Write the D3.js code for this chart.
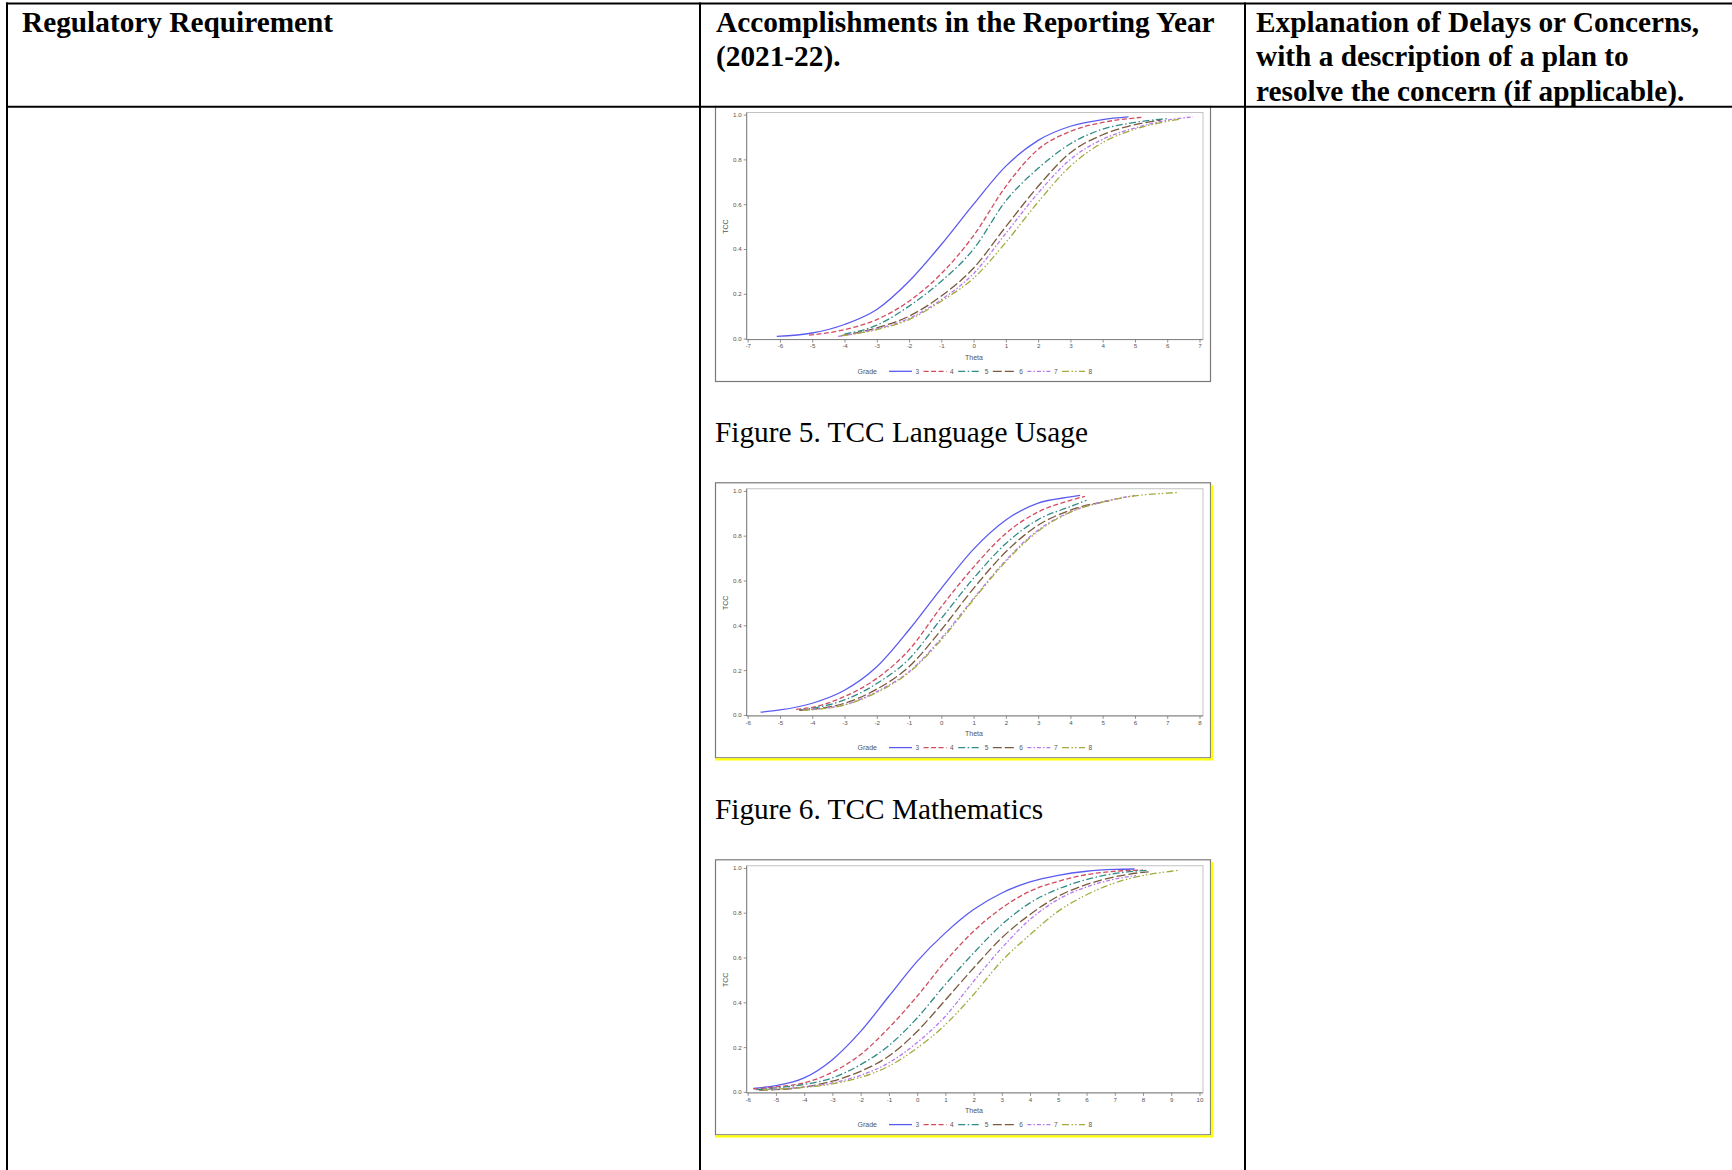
<!DOCTYPE html>
<html>
<head>
<meta charset="utf-8">
<script src="https://cdn.jsdelivr.net/npm/d3@7"></script>
<style>
  html, body { margin: 0; padding: 0; background: #fff; overflow: hidden; }
  svg { display: block; }
</style>
</head>
<body>
<div id="page"></div>
<script>
// Table header text (one entry per wrapped line)
var headerLeft = ['Regulatory Requirement'];
var headerMid = ['Accomplishments in the Reporting Year', '(2021-22).'];
var headerRight = ['Explanation of Delays or Concerns,', 'with a description of a plan to', 'resolve the concern (if applicable).'];
var captions = ['Figure 5. TCC Language Usage', 'Figure 6. TCC Mathematics'];

// Legend / series
var grades = ['3', '4', '5', '6', '7', '8'];
var gradeColors = ['#5b5bf0', '#d24b5e', '#2f8c86', '#7a5a3e', '#b878f0', '#a3ab3c'];
var gradeDash = ['none', '5,2.5', '7,2.5,1.5,2.5', '9,3', '4,2,1.5,2', '7,2.5,1.5,2,1.5,2.5'];
var yTicks = [0, 0.2, 0.4, 0.6, 0.8, 1.0];

// Chart 1 (top, caption cut off): theta ticks and curves [theta, TCC]
var ticks1 = [-7, -6, -5, -4, -3, -2, -1, 0, 1, 2, 3, 4, 5, 6, 7];
var curves1 = [
  [[-6.1, 0.01], [-5, 0.025], [-4, 0.063], [-3, 0.13], [-2, 0.256], [-1, 0.42], [0, 0.6], [1, 0.77], [2, 0.885], [3, 0.948], [4, 0.978], [4.8, 0.99]],
  [[-5.1, 0.015], [-4, 0.04], [-3, 0.085], [-2, 0.167], [-1, 0.29], [0, 0.46], [1, 0.68], [2, 0.845], [3, 0.925], [4, 0.965], [5, 0.985], [5.2, 0.988]],
  [[-4.0, 0.02], [-3, 0.06], [-2, 0.145], [-1, 0.256], [0, 0.4], [1, 0.615], [2, 0.76], [3, 0.87], [4, 0.935], [5, 0.965], [6, 0.982]],
  [[-4.1, 0.013], [-3, 0.048], [-2, 0.1], [-1, 0.19], [0, 0.315], [1, 0.5], [2, 0.68], [3, 0.83], [4, 0.91], [5, 0.955], [5.8, 0.975]],
  [[-4.2, 0.01], [-3, 0.043], [-2, 0.09], [-1, 0.174], [0, 0.29], [1, 0.47], [2, 0.65], [3, 0.8], [4, 0.89], [5, 0.94], [6, 0.975], [6.8, 0.99]],
  [[-4.1, 0.012], [-3, 0.04], [-2, 0.085], [-1, 0.167], [0, 0.27], [1, 0.43], [2, 0.61], [3, 0.77], [4, 0.875], [5, 0.935], [6, 0.97], [6.4, 0.98]]
];

// Chart 2: Language Usage
var ticks2 = [-6, -5, -4, -3, -2, -1, 0, 1, 2, 3, 4, 5, 6, 7, 8];
var curves2 = [
  [[-5.6, 0.012], [-5, 0.022], [-4, 0.052], [-3, 0.11], [-2, 0.215], [-1, 0.38], [0, 0.565], [1, 0.74], [2, 0.87], [3, 0.945], [4, 0.973], [4.3, 0.98]],
  [[-4.5, 0.025], [-4, 0.034], [-3, 0.082], [-2, 0.163], [-1, 0.29], [0, 0.483], [1, 0.66], [2, 0.81], [3, 0.906], [4, 0.958], [4.45, 0.976]],
  [[-4.4, 0.022], [-4, 0.03], [-3, 0.067], [-2, 0.14], [-1, 0.25], [0, 0.43], [1, 0.61], [2, 0.765], [3, 0.872], [4, 0.93], [4.5, 0.958]],
  [[-4.4, 0.02], [-4, 0.025], [-3, 0.052], [-2, 0.115], [-1, 0.215], [0, 0.38], [1, 0.565], [2, 0.728], [3, 0.847], [4, 0.914], [5, 0.951], [5.2, 0.956]],
  [[-4.3, 0.022], [-4, 0.025], [-3, 0.045], [-2, 0.104], [-1, 0.193], [0, 0.342], [1, 0.52], [2, 0.69], [3, 0.825], [4, 0.906], [5, 0.951], [6, 0.98]],
  [[-4.3, 0.02], [-4, 0.023], [-3, 0.044], [-2, 0.1], [-1, 0.19], [0, 0.335], [1, 0.515], [2, 0.685], [3, 0.82], [4, 0.905], [5, 0.95], [6, 0.978], [7, 0.99], [7.3, 0.993]]
];

// Chart 3: Mathematics
var ticks3 = [-6, -5, -4, -3, -2, -1, 0, 1, 2, 3, 4, 5, 6, 7, 8, 9, 10];
var curves3 = [
  [[-5.8, 0.016], [-5, 0.028], [-4, 0.0625], [-3, 0.144], [-2, 0.27], [-1, 0.427], [0, 0.583], [1, 0.71], [2, 0.814], [3, 0.888], [4, 0.9375], [5, 0.967], [6, 0.985], [7, 0.993], [7.7, 0.995]],
  [[-5.8, 0.013], [-5, 0.022], [-4, 0.04], [-3, 0.088], [-2, 0.167], [-1, 0.286], [0, 0.427], [1, 0.583], [2, 0.717], [3, 0.821], [4, 0.896], [5, 0.94], [6, 0.97], [7, 0.985], [8, 0.99]],
  [[-5.7, 0.01], [-5, 0.018], [-4, 0.033], [-3, 0.0625], [-2, 0.122], [-1, 0.207], [0, 0.33], [1, 0.48], [2, 0.62], [3, 0.747], [4, 0.844], [5, 0.906], [6, 0.948], [7, 0.975], [8, 0.988], [8.2, 0.99]],
  [[-5.6, 0.008], [-5, 0.01], [-4, 0.022], [-3, 0.048], [-2, 0.092], [-1, 0.16], [0, 0.27], [1, 0.41], [2, 0.553], [3, 0.688], [4, 0.792], [5, 0.874], [6, 0.926], [7, 0.96], [8, 0.98], [8.2, 0.982]],
  [[-5.45, 0.01], [-5, 0.013], [-4, 0.022], [-3, 0.04], [-2, 0.074], [-1, 0.13], [0, 0.22], [1, 0.338], [2, 0.494], [3, 0.643], [4, 0.77], [5, 0.86], [6, 0.915], [7, 0.95], [7.75, 0.966]],
  [[-5.45, 0.01], [-5, 0.012], [-4, 0.02], [-3, 0.036], [-2, 0.065], [-1, 0.115], [0, 0.196], [1, 0.3], [2, 0.435], [3, 0.585], [4, 0.702], [5, 0.807], [6, 0.88], [7, 0.933], [8, 0.966], [9, 0.985], [9.3, 0.99]]
];

var W = 1732, H = 1170;
var serif = '"Liberation Serif", "Times New Roman", serif';
var sans = '"Liberation Sans", Arial, sans-serif';

var svg = d3.select('#page').append('svg')
  .attr('width', W)
  .attr('height', H);

svg.append('rect').attr('width', W).attr('height', H).attr('fill', '#fff');

// ---- table ----
var colX = [7, 700, 1245];
var headerBottom = 106.8;
var grid = svg.append('g').attr('stroke', '#000').attr('stroke-width', 2);
grid.append('line').attr('x1', 6).attr('x2', W + 5).attr('y1', 3.5).attr('y2', 3.5);
colX.forEach(function(x) {
  grid.append('line').attr('x1', x).attr('x2', x).attr('y1', 2.5).attr('y2', H + 5);
});

function headerCell(lines, x) {
  var t = svg.append('text')
    .attr('font-family', serif)
    .attr('font-weight', 'bold')
    .attr('font-size', 29.3)
    .attr('fill', '#000');
  t.selectAll('tspan').data(lines).enter().append('tspan')
    .attr('x', x)
    .attr('y', function(d, i) { return 32 + i * 34.3; })
    .text(function(d) { return d; });
}
headerCell(headerLeft, 22);
headerCell(headerMid, 716);
headerCell(headerRight, 1256);

// ---- charts ----
var frameX = 715, frameW = 495, frameH = 275;

function drawChart(top, ticks, curves, yellow) {
  var g = svg.append('g').attr('transform', 'translate(' + frameX + ',' + top + ')');

  var x = d3.scaleLinear()
    .domain([ticks[0], ticks[ticks.length - 1]])
    .range([32.7, 484.5]);
  var y = d3.scaleLinear().domain([0, 1]).range([232.6, 8.6]);

  // outer frame of the pasted picture
  g.append('rect')
    .attr('x', 0.5).attr('y', 0.5)
    .attr('width', frameW).attr('height', frameH)
    .attr('fill', '#fff')
    .attr('stroke', '#7a7a7a')
    .attr('stroke-width', 1.2);
  if (yellow) {
    g.append('path')
      .attr('d', 'M' + (frameW + 2) + ',3V' + (frameH + 2) + 'H0')
      .attr('fill', 'none')
      .attr('stroke', '#ffff00')
      .attr('stroke-width', 2.2);
  }

  // plot wall
  g.append('rect')
    .attr('x', 31.7).attr('y', 6.5)
    .attr('width', 488 - 31.7).attr('height', 233.6 - 6.5)
    .attr('fill', 'none')
    .attr('stroke', '#b4b4b4')
    .attr('stroke-width', 0.8);

  var xAxis = d3.axisBottom(x)
    .tickValues(ticks)
    .tickSize(3)
    .tickPadding(1.5)
    .tickFormat(function(d) { return String(d); });
  var yAxis = d3.axisLeft(y)
    .tickValues(yTicks)
    .tickSize(3)
    .tickPadding(2)
    .tickFormat(d3.format('.1f'));

  var ax = g.append('g').attr('transform', 'translate(0,233.6)').call(xAxis);
  ax.select('.domain').attr('d', 'M31.7,0H488');
  var ay = g.append('g').attr('transform', 'translate(31.7,0)').call(yAxis);
  ay.select('.domain').attr('d', 'M0,6.5V233.6');
  [ax, ay].forEach(function(a) {
    a.attr('font-family', sans).attr('font-size', 6.2);
    a.select('.domain').attr('stroke', '#777').attr('stroke-width', 0.9);
    a.selectAll('.tick line').attr('stroke', '#777').attr('stroke-width', 0.8);
    a.selectAll('.tick text').attr('fill', '#555');
  });

  g.append('text')
    .attr('x', 259).attr('y', 253.6)
    .attr('text-anchor', 'middle')
    .attr('font-family', sans).attr('font-size', 7).attr('fill', '#555')
    .text('Theta');
  g.append('text')
    .attr('transform', 'translate(12.5,' + (y(0.5)) + ') rotate(-90)')
    .attr('text-anchor', 'middle')
    .attr('font-family', sans).attr('font-size', 7).attr('fill', '#555')
    .text('TCC');

  var line = d3.line()
    .x(function(d) { return x(d[0]); })
    .y(function(d) { return y(d[1]); })
    .curve(d3.curveMonotoneX);

  g.append('g').selectAll('path').data(curves).enter().append('path')
    .attr('d', line)
    .attr('fill', 'none')
    .attr('stroke', function(d, i) { return gradeColors[i]; })
    .attr('stroke-width', 1.3)
    .attr('stroke-dasharray', function(d, i) { return gradeDash[i]; });

  // legend
  var lg = g.append('g').attr('transform', 'translate(0,265.3)');
  lg.append('text')
    .attr('x', 142.5).attr('y', 2.4)
    .attr('font-family', sans).attr('font-size', 7).attr('fill', '#555')
    .text('Grade');
  var item = lg.selectAll('g.item').data(grades).enter().append('g')
    .attr('class', 'item')
    .attr('transform', function(d, i) { return 'translate(' + (174 + i * 34.6) + ',0)'; });
  item.append('line')
    .attr('x1', 0).attr('x2', 23)
    .attr('stroke', function(d, i) { return gradeColors[i]; })
    .attr('stroke-width', 1.3)
    .attr('stroke-dasharray', function(d, i) { return gradeDash[i]; });
  item.append('text')
    .attr('x', 26.5).attr('y', 2.3)
    .attr('font-family', sans).attr('font-size', 6.5).attr('fill', '#555')
    .text(function(d) { return d; });
}

drawChart(106, ticks1, curves1, false);
drawChart(482.3, ticks2, curves2, true);
drawChart(859.3, ticks3, curves3, true);

// the first chart sits right under the header rule
svg.append('line')
  .attr('x1', 6).attr('x2', W + 5)
  .attr('y1', headerBottom).attr('y2', headerBottom)
  .attr('stroke', '#000').attr('stroke-width', 2);

// figure captions between the charts
svg.selectAll('text.caption').data(captions).enter().append('text')
  .attr('class', 'caption')
  .attr('x', 715)
  .attr('y', function(d, i) { return 442 + i * 377; })
  .attr('font-family', serif)
  .attr('font-size', 29.3)
  .attr('fill', '#000')
  .text(function(d) { return d; });
</script>
</body>
</html>
